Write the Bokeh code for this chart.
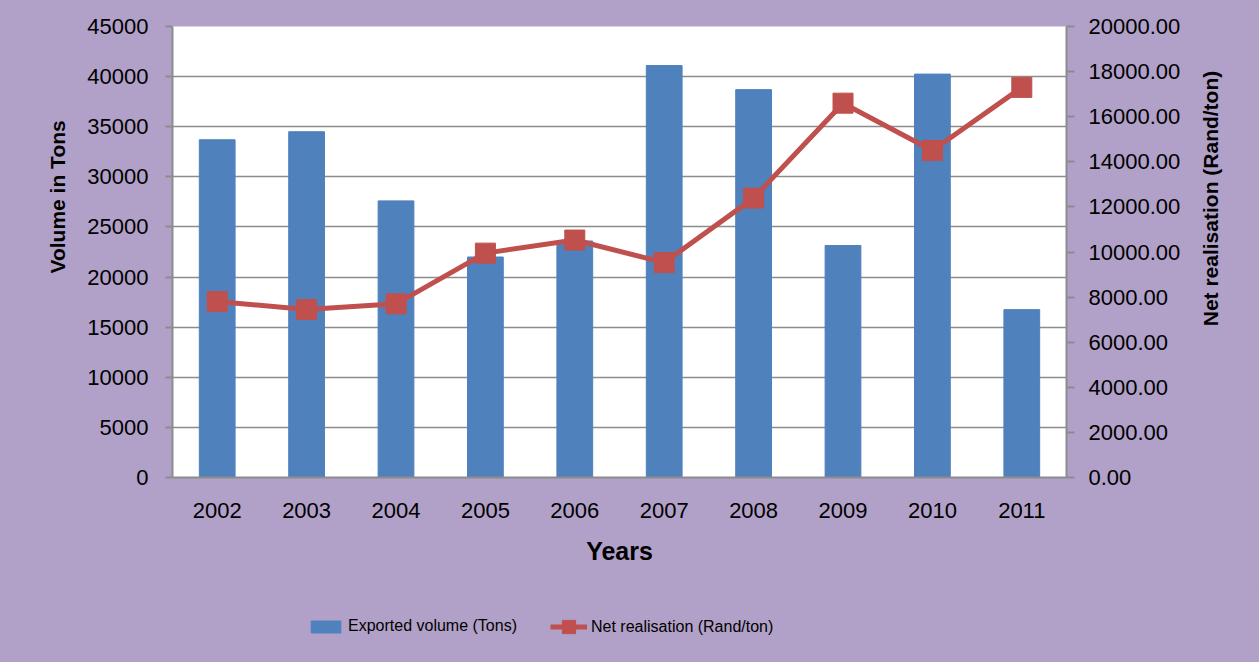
import math
from bokeh.plotting import figure
from bokeh.layouts import column, row
from bokeh.models import (Range1d, LinearAxis, FactorRange, SingleIntervalTicker,
                          NumeralTickFormatter, Legend, LegendItem, Title, Label)
from bokeh.embed import file_html
from bokeh.resources import INLINE

years = ["2002", "2003", "2004", "2005", "2006", "2007", "2008", "2009", "2010", "2011"]
volume = [33700, 34500, 27600, 22000, 23600, 41100, 38700, 23150, 40250, 16750]
net_realisation = [7800, 7450, 7700, 9950, 10530, 9530, 12390, 16600, 14500, 17300]
series_names = ["Exported volume (Tons)", "Net realisation (Rand/ton)"]
axis_titles = ["Years", "Volume in Tons", "Net realisation (Rand/ton)"]

BG = "#B1A0C7"
BAR = "#4F81BD"
RED = "#C0504D"
GRID = "#8C8C8C"
FONT = "Liberation Sans"

W_MAIN = 1185
W_SIDE = 74
H_MAIN = 590
H_LEG = 72

p = figure(x_range=FactorRange(*years, range_padding=0), y_range=Range1d(0, 45000),
           width=W_MAIN, height=H_MAIN, output_backend="svg", toolbar_location=None,
           min_border_left=172, min_border_right=119, min_border_top=26, min_border_bottom=113,
           background_fill_color="white", border_fill_color=BG, outline_line_color=None)
p.extra_y_ranges = {"right": Range1d(0, 20000)}

bars = p.vbar(x=years, top=volume, width=0.4, fill_color=BAR, line_color=BAR)
line = p.line(x=years, y=net_realisation, line_color=RED, line_width=5, y_range_name="right")
marks = p.scatter(x=years, y=net_realisation, marker="square", size=20, fill_color=RED,
                  line_color=RED, y_range_name="right")

# left axis
yl = p.yaxis[0]
yl.ticker = SingleIntervalTicker(interval=5000, num_minor_ticks=0)
yl.formatter = NumeralTickFormatter(format="0")
yl.axis_line_color = GRID
yl.axis_line_width = 2
yl.major_tick_line_color = GRID
yl.major_tick_line_width = 2
yl.major_tick_out = 7
yl.major_tick_in = 0
yl.minor_tick_line_color = None
yl.major_label_standoff = 17
yl.major_label_text_font = FONT
yl.major_label_text_font_size = "22px"
yl.major_label_text_color = "black"

# right axis
yr = LinearAxis(y_range_name="right", ticker=SingleIntervalTicker(interval=2000, num_minor_ticks=0),
                formatter=NumeralTickFormatter(format="0.00"))
yr.axis_line_color = GRID
yr.axis_line_width = 2
yr.major_tick_line_color = GRID
yr.major_tick_line_width = 2
yr.major_tick_out = 8
yr.major_tick_in = 0
yr.minor_tick_line_color = None
yr.major_label_standoff = 14
yr.major_label_text_font = FONT
yr.major_label_text_font_size = "22px"
yr.major_label_text_color = "black"
p.add_layout(yr, "right")

# x axis
xa = p.xaxis[0]
xa.axis_line_color = GRID
xa.axis_line_width = 2
xa.major_tick_line_color = None
xa.minor_tick_line_color = None
xa.major_label_standoff = 19
xa.major_label_text_font = FONT
xa.major_label_text_font_size = "22px"
xa.major_label_text_color = "black"
xa.axis_label = axis_titles[0]
xa.axis_label_text_font = FONT
xa.axis_label_text_font_style = "bold"
xa.axis_label_text_font_size = "25px"
xa.axis_label_text_color = "black"
xa.axis_label_standoff = 16

p.xgrid.grid_line_color = None
p.ygrid.grid_line_color = GRID
p.ygrid.grid_line_width = 1.5

# left rotated title
left_title = Title(text=axis_titles[1], align="left", offset=204, standoff=32,
                   text_font=FONT, text_font_style="bold", text_font_size="21px",
                   text_color="black")
p.add_layout(left_title, "left")

# right strip holding the secondary axis title (reads bottom-to-top)
r = figure(x_range=Range1d(0, 1), y_range=Range1d(0, 1), width=W_SIDE, height=H_MAIN,
           output_backend="svg", toolbar_location=None,
           min_border_left=0, min_border_right=0, min_border_top=26, min_border_bottom=113,
           x_axis_location=None, y_axis_location=None,
           background_fill_color=None, border_fill_color=BG, outline_line_color=None)
r.grid.visible = False
r.add_layout(Label(x=25, y=279, x_units="screen", y_units="screen", text=axis_titles[2],
                   angle=math.pi / 2, text_align="center", text_baseline="middle",
                   text_font=FONT, text_font_style="bold", text_font_size="21px",
                   text_color="black"))

# legend strip below the chart
q = figure(x_range=Range1d(0, 1), y_range=Range1d(0, 1), width=W_MAIN + W_SIDE, height=H_LEG,
           output_backend="svg", toolbar_location=None,
           min_border_left=172, min_border_right=193, min_border_top=0, min_border_bottom=0,
           x_axis_location=None, y_axis_location=None,
           background_fill_color=None, border_fill_color=BG, outline_line_color=None)
q.grid.visible = False
# legend proxies (placed outside the visible range, only their styles are shown in the legend)
lb = q.vbar(x=[-5], top=[0], width=0, fill_color=BAR, line_color=BAR)
ll = q.line(x=[-5, -5], y=[0, 0], line_color=RED, line_width=5)
lm = q.scatter(x=[-5], y=[0], marker="square", fill_color=RED, line_color=RED)

legend_a = Legend(items=[LegendItem(label=series_names[0], renderers=[lb])],
                  orientation="horizontal", location=(135, 26),
                  glyph_width=37, glyph_height=15, label_standoff=4,
                  padding=0, margin=0, border_line_color=None, background_fill_alpha=0,
                  label_text_font=FONT, label_text_font_size="16px", label_text_color="black",
                  label_height=20)
legend_b = Legend(items=[LegendItem(label=series_names[1], renderers=[ll, lm])],
                  orientation="horizontal", location=(378, 19),
                  glyph_width=37, glyph_height=33, label_standoff=4,
                  padding=0, margin=0, border_line_color=None, background_fill_alpha=0,
                  label_text_font=FONT, label_text_font_size="16px", label_text_color="black",
                  label_height=20)
q.add_layout(legend_a)
q.add_layout(legend_b)

top_row = row(p, r, spacing=0, styles={"background-color": BG})
layout = column(top_row, q, spacing=0, styles={"background-color": BG})
open("out.html", "w").write(file_html(layout, INLINE))
